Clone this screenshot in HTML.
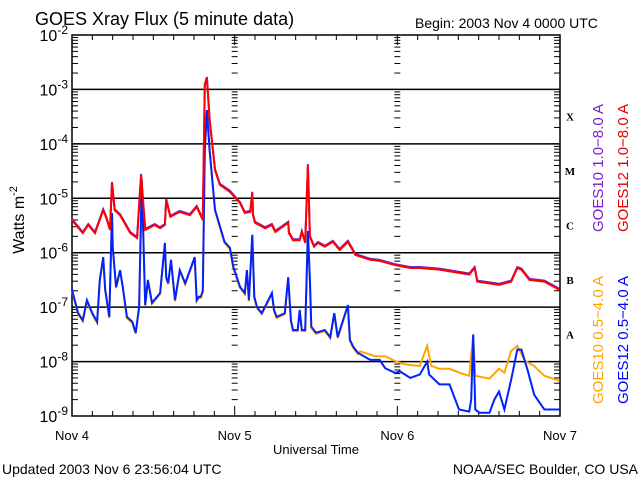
<!DOCTYPE html>
<html><head><meta charset="utf-8"><style>
body{margin:0;background:#fff;width:640px;height:480px;overflow:hidden}
svg{font-family:"Liberation Sans",sans-serif}
</style></head><body>
<svg id="c" width="640" height="480">
<text x="35" y="25" font-size="18">GOES Xray Flux (5 minute data)</text>
<text x="415" y="28" font-size="14">Begin:  2003 Nov 4 0000 UTC</text>
<text transform="translate(24,220) rotate(-90)" text-anchor="middle" font-size="16">Watts m<tspan dy="-7" font-size="11">-2</tspan></text>
<text x="316" y="454" text-anchor="middle" font-size="13">Universal Time</text>
<text x="2" y="474" font-size="14">Updated 2003 Nov  6 23:56:04 UTC</text>
<text x="638" y="474" text-anchor="end" font-size="14">NOAA/SEC Boulder, CO USA</text>
<g font-size="15">
<text transform="translate(603,168) rotate(-90)" text-anchor="middle" fill="#7a1fd0">GOES10 1.0−8.0 A</text>
<text transform="translate(628,168) rotate(-90)" text-anchor="middle" fill="#e00000">GOES12 1.0−8.0 A</text>
<text transform="translate(603,340) rotate(-90)" text-anchor="middle" fill="#ffa500">GOES10 0.5−4.0 A</text>
<text transform="translate(628,340) rotate(-90)" text-anchor="middle" fill="#0000ff">GOES12 0.5−4.0 A</text>
</g>
<g id="g"></g>
</svg>
<script>
const dayLabels=["Nov 4","Nov 5","Nov 6","Nov 7"];
const decadeExps=[-2,-3,-4,-5,-6,-7,-8,-9];
const classLabels=["X","M","C","B","A"];
const classExps=[-3.5,-4.5,-5.5,-6.5,-7.5];
// [hour since Nov 4 00UT, log10 flux]
const longPts=[[0,-5.40],[1.6,-5.64],[2.4,-5.49],[3.4,-5.64],[4.6,-5.22],[5.0,-5.34],[5.6,-5.58],[5.9,-4.72],[6.3,-5.22],[7.1,-5.31],[8.6,-5.64],[9.6,-5.73],[10.2,-4.57],[10.8,-5.58],[12.2,-5.49],[13.0,-5.55],[13.7,-5.49],[13.9,-5.03],[14.5,-5.34],[15.9,-5.25],[17.4,-5.31],[18.4,-5.16],[19.3,-5.40],[19.6,-2.92],[19.9,-2.79],[20.3,-3.56],[21.1,-4.48],[21.8,-4.75],[23.3,-4.88],[24.8,-5.09],[25.5,-5.27],[26.3,-5.25],[26.6,-4.90],[26.7,-5.31],[27.0,-5.45],[28.5,-5.55],[29.5,-5.49],[30.0,-5.62],[31.9,-5.45],[32.0,-5.64],[32.6,-5.77],[33.6,-5.77],[33.9,-5.62],[34.4,-5.82],[34.8,-4.39],[35.1,-5.71],[35.7,-5.89],[36.3,-5.82],[37.3,-5.89],[38.5,-5.80],[39.5,-5.95],[40.7,-5.80],[41.8,-6.04],[44.0,-6.13],[45.4,-6.15],[47.7,-6.23],[49.9,-6.28],[51.3,-6.28],[54.2,-6.31],[58.6,-6.40],[59.4,-6.28],[59.8,-6.53],[63.0,-6.59],[64.8,-6.53],[65.7,-6.28],[66.3,-6.31],[67.5,-6.50],[69.7,-6.53],[71.9,-6.68]];
const shortPts=[[0,-6.68],[0.9,-7.11],[1.6,-7.24],[2.2,-6.87],[3.0,-7.11],[3.7,-7.27],[4.1,-6.50],[4.6,-6.08],[4.9,-6.68],[5.5,-7.18],[5.9,-5.27],[6.0,-5.89],[6.5,-6.63],[7.1,-6.32],[7.5,-6.63],[8.1,-7.18],[8.9,-7.27],[9.4,-7.47],[9.9,-7.00],[10.3,-4.66],[10.8,-6.96],[11.2,-6.50],[11.8,-6.92],[13.0,-6.74],[13.7,-5.82],[13.9,-6.45],[14.2,-6.56],[14.6,-6.13],[15.2,-6.87],[15.9,-6.32],[16.7,-6.56],[18.1,-6.08],[18.4,-6.87],[18.7,-6.81],[19.0,-6.81],[19.3,-6.70],[19.6,-4.11],[19.9,-3.38],[20.3,-4.11],[21.1,-5.21],[22.5,-5.80],[23.3,-5.91],[23.8,-6.26],[24.8,-6.63],[25.5,-6.74],[25.8,-6.32],[26.1,-6.87],[26.6,-5.67],[26.9,-6.81],[27.3,-7.00],[28.0,-7.11],[29.5,-6.74],[29.8,-7.05],[30.2,-7.18],[31.4,-7.11],[31.9,-6.45],[32.3,-7.24],[32.6,-7.42],[33.3,-7.42],[33.6,-7.05],[33.9,-7.42],[34.4,-7.42],[34.8,-5.60],[35.1,-6.50],[35.3,-7.36],[36.0,-7.47],[37.3,-7.42],[38.1,-7.55],[38.7,-7.11],[39.2,-7.55],[40.7,-6.96],[41.0,-7.60],[41.5,-7.73],[42.2,-7.84],[44.0,-7.97],[45.4,-7.97],[46.2,-8.12],[47.7,-8.21],[48.4,-8.18],[49.9,-8.30],[51.3,-8.24],[52.4,-8.00],[52.7,-8.24],[54.2,-8.42],[55.7,-8.42],[57.1,-8.88],[58.6,-8.92],[58.9,-8.70],[59.2,-7.50],[59.5,-8.88],[60.1,-8.94],[61.6,-8.94],[62.3,-8.70],[63.0,-8.55],[63.8,-8.88],[64.8,-8.33],[65.7,-7.78],[66.3,-7.78],[67.2,-8.15],[68.2,-8.61],[69.7,-8.88],[71.9,-8.88]];
const g10TailPts=[[42.5,-7.79],[44.7,-7.88],[46.2,-7.88],[47.7,-7.97],[49.1,-8.03],[51.3,-8.06],[52.4,-7.69],[53.0,-8.06],[54.2,-8.11],[55.7,-8.11],[57.1,-8.18],[58.6,-8.24],[59.2,-7.50],[59.5,-8.24],[61.6,-8.29],[63.0,-8.11],[63.8,-8.18],[64.8,-7.78],[65.7,-7.69],[66.8,-7.96],[68.2,-8.06],[69.7,-8.24],[71.9,-8.33]];
const L=72,R=560,T=35,B=416;
const x=h=>L+h*(R-L)/72;
const y=v=>T+(-2-v)*(B-T)/7;
const NS="http://www.w3.org/2000/svg";
const G=document.getElementById('g');
function mk(t,a,p){const e=document.createElementNS(NS,t);for(const k in a)e.setAttribute(k,a[k]);(p||G).appendChild(e);return e;}
const fr=mk('rect',{x:L,y:T,width:R-L,height:B-T,fill:'none',stroke:'#000','stroke-width':1.5});


decadeExps.forEach((e,i)=>{
  const yy=y(e);
  if(e<-2&&e>-9){const l=mk('line',{x1:L,x2:R,y1:yy,y2:yy,stroke:'#000','stroke-width':1.5});
  
  }
  const t=mk('text',{x:L-4,y:yy+6,'text-anchor':'end','font-size':16});
  
  
  t.innerHTML='10<tspan dy="-7" font-size="12">'+e+'</tspan>';
  if(e>-9){for(let m=1;m<=9;m++){const yv=y(e-1+Math.log10(m));const len=m==1?10:6;
    [L,x(24),x(48),R].forEach((xx,j)=>{
      if(j==0)mk('line',{x1:xx,x2:xx+len,y1:yv,y2:yv,stroke:'#000'});
      else if(j==3)mk('line',{x1:xx-len,x2:xx,y1:yv,y2:yv,stroke:'#000'});
      else mk('line',{x1:xx-3,x2:xx+3,y1:yv,y2:yv,stroke:'#000'});
    });}}
});
for(let h=0;h<=72;h+=3){const xx=x(h);const len=h%24==0?10:5;
  mk('line',{x1:xx,x2:xx,y1:B,y2:B-len,stroke:'#000'});
  mk('line',{x1:xx,x2:xx,y1:T,y2:T+len,stroke:'#000'});}
dayLabels.forEach((d,i)=>{const t=mk('text',{x:x(i*24),y:440,'text-anchor':'middle','font-size':13});
  
  
  t.textContent=d;});
classLabels.forEach((c,i)=>{const t=mk('text',{x:570,y:y(classExps[i])+4,'text-anchor':'middle','font-size':11,'font-weight':'bold','font-family':'Liberation Serif,serif'});
  
  
  t.textContent=c;});
function line(pts,col,name,dx,dy){const s=pts.map(p=>(x(p[0])+(dx||0)).toFixed(1)+','+(y(p[1])+(dy||0)).toFixed(1)).join(' ');
  const p=mk('polyline',{points:s,fill:'none',stroke:col,'stroke-width':2,'stroke-linejoin':'miter'});
  
  }
const cutIdx=shortPts.findIndex(p=>p[0]>42.3);
const g10Pts=shortPts.slice(0,cutIdx).concat(g10TailPts);
line(g10Pts,'#ffa500','series-goes10-short',0,1.2);
line(shortPts,'#0022ff','series-goes12-short');
line(longPts,'#7a1fd0','series-goes10-long',0,-1);
line(longPts,'#ff0000','series-goes12-long');
</script>
</body></html>
